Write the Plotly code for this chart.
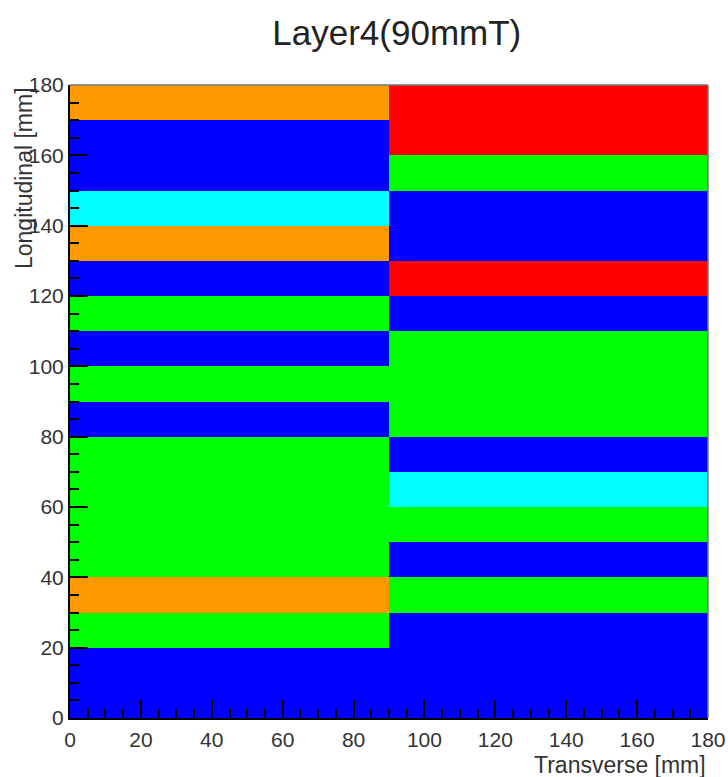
import plotly.graph_objects as go

# Bin edges
x_edges = [0, 90, 180]
y_edges = list(range(0, 190, 10))

# Cell states, bottom (0-10 mm) to top (170-180 mm)
left_column = ["blue", "blue", "green", "orange", "green", "green", "green", "green",
               "blue", "green", "blue", "green", "blue", "orange", "cyan", "blue",
               "blue", "orange"]
right_column = ["blue", "blue", "blue", "green", "blue", "green", "cyan", "blue",
                "green", "green", "green", "blue", "red", "blue", "blue", "green",
                "red", "red"]

states = ["blue", "green", "cyan", "orange", "red"]
state_colors = ["#0000FF", "#00FF00", "#00FFFF", "#FF9900", "#FF0000"]

code = {s: i for i, s in enumerate(states)}
z = [[code[l], code[r]] for l, r in zip(left_column, right_column)]

n = len(states)
colorscale = []
for i, c in enumerate(state_colors):
    colorscale.append([i / n, c])
    colorscale.append([(i + 1) / n, c])

fig = go.Figure(go.Heatmap(
    x=x_edges, y=y_edges, z=z,
    zmin=-0.5, zmax=n - 0.5,
    colorscale=colorscale, showscale=False,
    hoverinfo="skip",
))

FONT = "Liberation Sans, Arial, Helvetica"

axis_common = dict(
    range=[0, 180], dtick=20, tick0=0,
    ticks="inside", ticklen=18, tickwidth=1.5, tickcolor="black",
    minor=dict(dtick=5, ticks="inside", ticklen=9, tickwidth=1.5, tickcolor="black"),
    showline=True, linecolor="black", linewidth=2, mirror=False,
    showgrid=False, zeroline=False,
    tickfont=dict(family=FONT, size=21, color="#333333"),
    fixedrange=True, automargin=False,
)

fig.update_layout(
    width=728, height=777,
    margin=dict(l=70, r=20, t=85, b=59, autoexpand=False),
    paper_bgcolor="white", plot_bgcolor="white",
    xaxis=dict(**axis_common, ticklabelstandoff=2),
    yaxis=dict(**axis_common, ticklabelstandoff=0),
    title=dict(text="Layer4(90mmT)", x=0.545, xanchor="center", y=0.958, yanchor="middle",
               font=dict(family=FONT, size=35, color="#222222")),
    shapes=[
        dict(type="line", xref="paper", yref="paper", x0=0, x1=1, y0=1, y1=1,
             line=dict(color="#777777", width=1.5)),
        dict(type="line", xref="paper", yref="paper", x0=1, x1=1, y0=0, y1=1,
             line=dict(color="#777777", width=1.5)),
    ],
    annotations=[
        dict(text="Transverse [mm]", xref="paper", yref="paper", x=1.0, y=0,
             xanchor="right", yanchor="top", yshift=-32, showarrow=False,
             font=dict(family=FONT, size=23, color="#333333")),
        dict(text="Longitudinal [mm]", xref="paper", yref="paper", x=0, y=1.0,
             xanchor="right", yanchor="top", xshift=-31, textangle=-90, showarrow=False,
             font=dict(family=FONT, size=23, color="#333333")),
    ],
)

fig.write_html("out.html", config={"displayModeBar": False},
               post_script="document.body.style.margin='0';")
